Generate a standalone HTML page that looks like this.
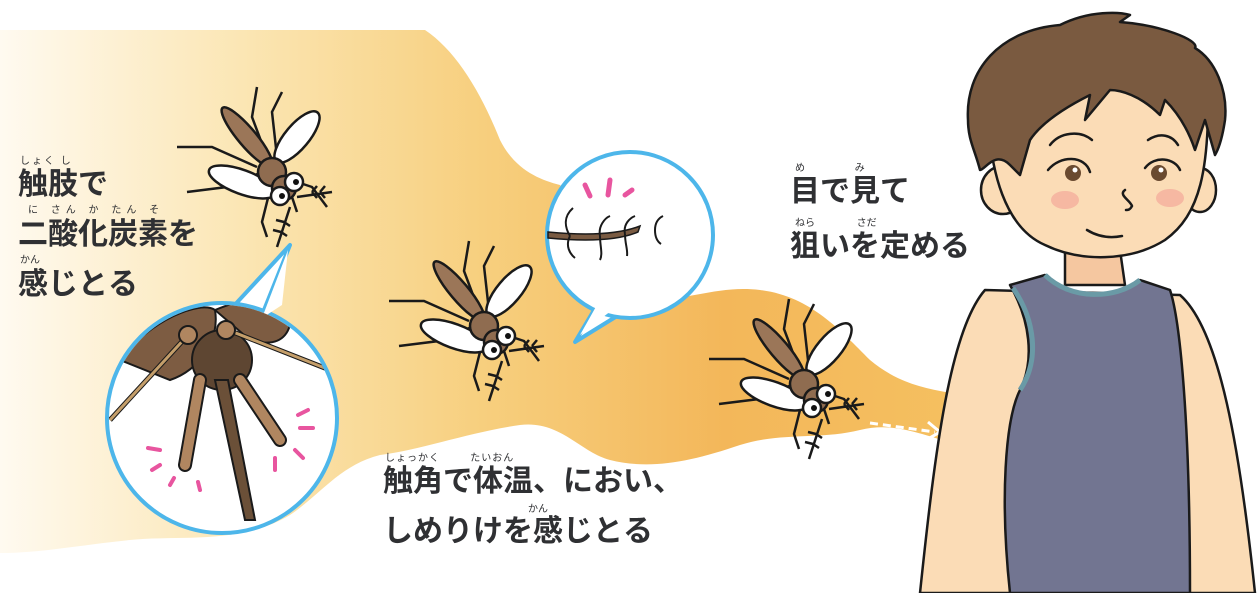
<!DOCTYPE html>
<html><head><meta charset="utf-8">
<style>
html,body{margin:0;padding:0;background:#fff;}
body{width:1260px;height:593px;overflow:hidden;position:relative;font-family:"Liberation Sans","Noto Sans CJK JP",sans-serif;}
.t{position:absolute;color:#2f3033;font-weight:bold;font-size:30px;line-height:1;white-space:nowrap;letter-spacing:0;}
.r{position:absolute;color:#2f3033;font-size:10px;line-height:1;white-space:nowrap;}
svg{position:absolute;left:0;top:0;}
</style></head><body>
<svg width="1260" height="593" viewBox="0 0 1260 593">
<defs>
<linearGradient id="g" x1="0" y1="0" x2="1" y2="0">
<stop offset="0" stop-color="#fffaf0"/>
<stop offset="0.25" stop-color="#fbe6b4"/>
<stop offset="0.5" stop-color="#f7cf7e"/>
<stop offset="0.75" stop-color="#f3b75a"/>
<stop offset="1" stop-color="#f5c060"/>
</linearGradient>
<g id="m">
<g stroke="#1a1a1a" stroke-width="2.5" fill="none">
<path d="M-15,-5 L-60,-25 L-95,-25"/><path d="M-10,0 L-45,15 L-85,20"/>
<path d="M-5,-15 L-20,-55 L-15,-85"/><path d="M5,-15 L0,-60 L10,-80"/>
<path d="M10,5 L40,15 L55,35"/><path d="M0,10 L-10,50 L-5,65"/>
<path d="M15,10 L25,40"/>
<path d="M25,25 L60,20 M40,20 l5,-6 M48,20 l5,-6 M40,20 l5,6 M48,20 l5,6"/>
<path d="M18,35 L5,75 M12,50 l-8,-2 M9,60 l-8,-2 M12,50 l6,4 M9,60 l6,4"/>
</g>
<ellipse cx="-25" cy="-35" rx="9" ry="38" transform="rotate(-40 -25 -35)" fill="#9b7658" stroke="#1a1a1a" stroke-width="2.5"/>
<ellipse cx="25" cy="-35" rx="12" ry="32" transform="rotate(40 25 -35)" fill="#fff" stroke="#1a1a1a" stroke-width="2.5"/>
<ellipse cx="-30" cy="10" rx="12" ry="35" transform="rotate(-70 -30 10)" fill="#fff" stroke="#1a1a1a" stroke-width="2.5"/>
<circle cx="0" cy="0" r="14" fill="#8f6c50" stroke="#1a1a1a" stroke-width="2.5"/>
<circle cx="12" cy="16" r="12" fill="#8f6c50" stroke="#1a1a1a" stroke-width="2.5"/>
<circle cx="8" cy="24" r="9" fill="#fff" stroke="#1a1a1a" stroke-width="2.5"/><circle cx="10" cy="24" r="3" fill="#111"/>
<circle cx="22" cy="10" r="9" fill="#fff" stroke="#1a1a1a" stroke-width="2.5"/><circle cx="24" cy="10" r="3" fill="#111"/>
</g>
</defs>
<path d="M0,30 L425,30 C455,50 480,90 500,140 C515,170 540,180 560,185 L650,300 C690,300 720,285 760,290 C810,296 840,330 870,360 C900,385 930,390 965,395 L965,445 C930,440 900,420 860,430 C820,440 780,432 740,445 C690,462 650,470 610,460 C580,452 560,420 520,425 C470,432 420,450 380,455 C340,465 320,495 290,515 C240,545 180,535 130,540 C80,545 40,553 0,553 Z" fill="url(#g)"/>
<path d="M290,245 L262,315 L230,310 Z" fill="#fff" stroke="#4db6ea" stroke-width="4" stroke-linejoin="round"/>
<circle cx="222" cy="418" r="115" fill="#fff" stroke="#4db6ea" stroke-width="4"/>
<path d="M262,318 L288,250 L282,305 Z" fill="#fff"/>
<clipPath id="c1"><circle cx="222" cy="418" r="113"/></clipPath>
<g clip-path="url(#c1)">
<path d="M120,360 C150,320 200,300 215,310 C220,340 200,370 170,380 Z" fill="#7d5c42" stroke="#1a1a1a" stroke-width="2"/>
<path d="M215,310 C240,300 270,290 290,300 C295,330 285,350 250,340 Z" fill="#7d5c42" stroke="#1a1a1a" stroke-width="2"/>
<path d="M240,285 L290,255 L280,305 Z" fill="#8a6448" stroke="#1a1a1a" stroke-width="2"/>
<circle cx="222" cy="360" r="30" fill="#5e4632" stroke="#1a1a1a" stroke-width="2"/>
<path d="M215,380 L245,520 L255,520 L228,380 Z" fill="#6b5038" stroke="#1a1a1a" stroke-width="2"/>
<path d="M200,380 L185,465" stroke="#1a1a1a" stroke-width="14" stroke-linecap="round"/>
<path d="M200,380 L185,465" stroke="#b08660" stroke-width="10" stroke-linecap="round"/>
<path d="M240,380 L280,440" stroke="#1a1a1a" stroke-width="14" stroke-linecap="round"/>
<path d="M240,380 L280,440" stroke="#b08660" stroke-width="10" stroke-linecap="round"/>
<path d="M188,335 L110,420 M228,330 L330,370" stroke="#1a1a1a" stroke-width="5"/>
<path d="M188,335 L110,420 M228,330 L330,370" stroke="#c49e6a" stroke-width="3"/>
<circle cx="188" cy="335" r="9" fill="#b08660" stroke="#1a1a1a" stroke-width="2"/>
<circle cx="226" cy="330" r="9" fill="#b08660" stroke="#1a1a1a" stroke-width="2"/>
<g stroke="#e8559f" stroke-width="4" stroke-linecap="round">
<path d="M148,448 L160,450 M152,470 L160,465 M170,485 L174,478 M200,490 L198,482 M275,458 L275,470 M295,450 L303,458 M300,428 L313,428 M298,415 L308,410"/>
</g>
</g>
<path d="M575,342 L600,300 L630,308 Z" fill="#fff" stroke="#4db6ea" stroke-width="4" stroke-linejoin="round"/>
<circle cx="630" cy="235" r="83" fill="#fff" stroke="#4db6ea" stroke-width="4"/>
<path d="M580,335 L602,296 L625,300 Z" fill="#fff"/>
<path d="M548,232 Q610,238 640,226 L638,232 Q610,244 548,238 Z" fill="#7a5b42" stroke="#1a1a1a" stroke-width="1.5"/>
<g stroke="#1a1a1a" stroke-width="2" fill="none">
<path d="M570,236 c-6,-10 -6,-20 3,-28 M570,236 c-5,10 0,18 5,22 M600,236 c-2,-10 5,-18 10,-20 M600,236 c0,10 3,18 0,24 M625,234 c-2,-10 5,-16 10,-18 M625,234 c0,10 3,16 2,22 M655,230 c0,-8 4,-12 8,-14 M655,230 c0,8 3,12 6,14"/>
</g>
<g stroke="#e8559f" stroke-width="5" stroke-linecap="round">
<path d="M585,185 L590,196 M610,180 L608,195 M625,195 L632,190"/>
</g>
<use href="#m" transform="translate(272,172)"/>
<use href="#m" transform="translate(484,326)"/>
<use href="#m" transform="translate(804,384)"/>
<path d="M870,423 L935,432" stroke="#fff" stroke-width="3" stroke-dasharray="8,5"/>
<path d="M928,422 L940,432 L926,440" stroke="#fff" stroke-width="3" fill="none"/>
<g stroke="#1a1a1a" stroke-width="2.5" stroke-linejoin="round">
<path d="M985,290 C950,330 935,450 920,593 L1255,593 C1240,450 1220,330 1180,295 Z" fill="#fbdcb6"/>
<path d="M1065,250 L1065,285 L1125,285 L1120,250 Z" fill="#f5c7a0"/>
<path d="M1010,285 L1045,275 C1070,300 1115,300 1140,280 L1170,290 C1180,320 1190,420 1190,593 L1010,593 C1000,500 1005,420 1020,390 C1035,360 1030,320 1010,285 Z" fill="#727591"/>
<path d="M1045,275 C1070,300 1115,300 1140,280" fill="none" stroke="#6a9aa6" stroke-width="5"/>
<path d="M1013,288 C1035,320 1040,360 1020,390" fill="none" stroke="#6a9aa6" stroke-width="5"/>
<ellipse cx="1003" cy="190" rx="22" ry="24" fill="#fbdcb6"/>
<ellipse cx="1200" cy="190" rx="16" ry="22" fill="#fbdcb6"/>
<path d="M988,80 C985,180 1010,230 1045,245 C1080,262 1130,262 1165,240 C1200,215 1210,170 1208,80 Z" fill="#fbdcb6"/>
<path d="M968,120 C965,70 1000,30 1060,25 C1090,10 1120,12 1130,15 L1120,22 C1160,25 1200,40 1195,48 C1215,60 1228,90 1225,120 C1222,140 1218,150 1215,155 L1205,120 L1195,150 C1185,120 1170,105 1165,100 L1160,115 C1140,95 1120,90 1110,90 L1085,120 L1090,95 C1060,110 1040,125 1030,140 L1020,175 L1010,165 C995,150 985,170 980,170 C975,150 968,140 968,120 Z" fill="#7a5a40"/>
</g>
<ellipse cx="1065" cy="200" rx="14" ry="9" fill="#f3a89a" opacity="0.7"/>
<ellipse cx="1170" cy="198" rx="14" ry="9" fill="#f3a89a" opacity="0.7"/>
<g stroke="#1a1a1a" stroke-width="2.5" fill="none" stroke-linecap="round">
<path d="M1050,145 C1060,132 1080,130 1092,140"/><path d="M1148,140 C1160,132 1172,135 1178,145"/>
<path d="M1048,170 C1060,155 1085,155 1090,172"/><path d="M1145,168 C1155,155 1175,158 1180,170"/>
<path d="M1125,190 C1118,195 1130,200 1132,206 C1130,210 1128,210 1126,210"/>
<path d="M1087,230 C1100,238 1112,238 1122,236"/>
</g>
<circle cx="1073" cy="173" r="8" fill="#6a4a30"/><circle cx="1075" cy="170" r="2.5" fill="#fff"/>
<circle cx="1159" cy="173" r="8" fill="#6a4a30"/><circle cx="1161" cy="170" r="2.5" fill="#fff"/>
</svg>
<div class="r" style="left:20px;top:157px;letter-spacing:2px">しょく し</div>
<div class="t" style="left:18px;top:170px">触肢で</div>
<div class="r" style="left:28px;top:206px;letter-spacing:5px">に さん か たん そ</div>
<div class="t" style="left:18px;top:220px">二酸化炭素を</div>
<div class="r" style="left:20px;top:256px">かん</div>
<div class="t" style="left:18px;top:270px">感じとる</div>
<div class="r" style="left:795px;top:164px;letter-spacing:2px">め&nbsp;&nbsp;&nbsp;&nbsp;&nbsp;&nbsp;&nbsp;&nbsp;&nbsp;&nbsp;み</div>
<div class="t" style="left:790px;top:177px">目で見て</div>
<div class="r" style="left:795px;top:219px">ねら&nbsp;&nbsp;&nbsp;&nbsp;&nbsp;&nbsp;&nbsp;&nbsp;&nbsp;&nbsp;&nbsp;&nbsp;&nbsp;&nbsp;&nbsp;さだ</div>
<div class="t" style="left:790px;top:232px">狙いを定める</div>
<div class="r" style="left:385px;top:454px;letter-spacing:1px">しょっかく&nbsp;&nbsp;&nbsp;&nbsp;&nbsp;&nbsp;&nbsp;&nbsp;たいおん</div>
<div class="t" style="left:383px;top:467px">触角で体温、におい、</div>
<div class="r" style="left:528px;top:505px">かん</div>
<div class="t" style="left:383px;top:517px">しめりけを感じとる</div>
</body></html>
